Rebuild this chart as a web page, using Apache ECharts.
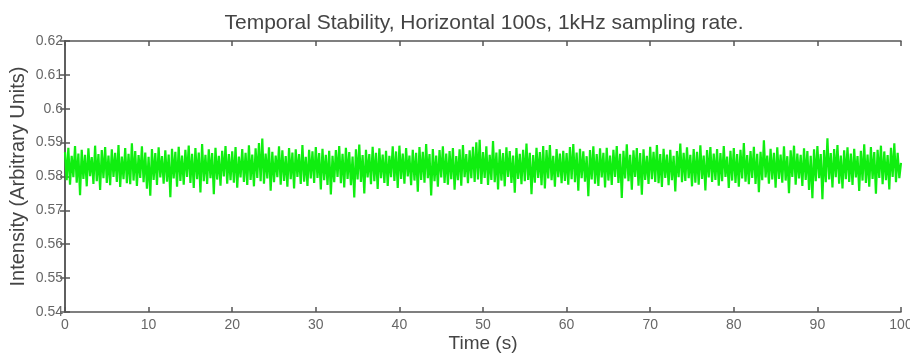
<!DOCTYPE html>
<html>
<head>
<meta charset="utf-8">
<script src="https://cdn.jsdelivr.net/npm/echarts@6/dist/echarts.min.js"></script>
<style>html,body{margin:0;padding:0;background:#fff;}#c{width:910px;height:354px;}</style>
</head>
<body>
<div id="c"></div>
<script>
const titleText = "Temporal Stability, Horizontal 100s, 1kHz sampling rate.";
const xName = "Time (s)";
const yName = "Intensity (Arbitrary Units)";
const xTicks = [0,10,20,30,40,50,60,70,80,90,100];
const yTicks = [0.54,0.55,0.56,0.57,0.58,0.59,0.6,0.61,0.62];
const sampleStep = 0.2; // seconds between plotted samples
const intensity = [
0.5872,0.5789,0.5885,0.5776,0.5861,0.5798,0.5890,0.5782,0.5868,0.5745,
0.5879,0.5793,0.5864,0.5771,0.5883,0.5801,0.5857,0.5778,0.5891,0.5786,
0.5866,0.5760,0.5878,0.5795,0.5887,0.5781,0.5862,0.5774,0.5880,0.5799,
0.5870,0.5784,0.5893,0.5769,0.5859,0.5792,0.5884,0.5780,0.5867,0.5777,
0.5898,0.5788,0.5875,0.5772,0.5863,0.5796,0.5889,0.5783,0.5871,0.5764,
0.5858,0.5743,0.5881,0.5790,0.5869,0.5775,0.5886,0.5797,0.5860,0.5779,
0.5877,0.5785,0.5865,0.5739,0.5882,0.5794,0.5873,0.5770,0.5888,0.5787,
0.5862,0.5776,0.5879,0.5799,0.5891,0.5781,0.5867,0.5766,0.5884,0.5792,
0.5871,0.5753,0.5896,0.5786,0.5864,0.5778,0.5880,0.5795,0.5869,0.5748,
0.5885,0.5791,0.5861,0.5773,0.5876,0.5800,0.5890,0.5779,0.5866,0.5789,
0.5874,0.5782,0.5887,0.5767,0.5859,0.5797,0.5881,0.5784,0.5870,0.5775,
0.5892,0.5790,0.5865,0.5771,0.5883,0.5796,0.5899,0.5786,0.5912,0.5779,
0.5868,0.5794,0.5886,0.5758,0.5873,0.5783,0.5862,0.5798,0.5889,0.5776,
0.5877,0.5787,0.5860,0.5770,0.5884,0.5792,0.5871,0.5765,0.5880,0.5799,
0.5866,0.5778,0.5893,0.5785,0.5858,0.5772,0.5879,0.5794,0.5874,0.5781,
0.5887,0.5796,0.5869,0.5762,0.5882,0.5789,0.5864,0.5775,0.5876,0.5747,
0.5861,0.5783,0.5878,0.5799,0.5890,0.5780,0.5867,0.5768,0.5885,0.5793,
0.5872,0.5774,0.5859,0.5738,0.5880,0.5791,0.5894,0.5784,0.5863,0.5750,
0.5879,0.5797,0.5866,0.5777,0.5888,0.5786,0.5870,0.5763,0.5883,0.5795,
0.5865,0.5781,0.5876,0.5772,0.5861,0.5798,0.5889,0.5787,0.5874,0.5766,
0.5891,0.5793,0.5868,0.5779,0.5884,0.5800,0.5862,0.5774,0.5879,0.5788,
0.5870,0.5755,0.5887,0.5790,0.5873,0.5782,0.5896,0.5795,0.5866,0.5744,
0.5881,0.5786,0.5862,0.5770,0.5878,0.5797,0.5889,0.5781,0.5868,0.5776,
0.5875,0.5792,0.5884,0.5761,0.5860,0.5789,0.5880,0.5773,0.5893,0.5798,
0.5866,0.5780,0.5877,0.5795,0.5888,0.5784,0.5901,0.5791,0.5908,0.5778,
0.5872,0.5796,0.5889,0.5775,0.5864,0.5790,0.5905,0.5783,0.5871,0.5762,
0.5880,0.5788,0.5869,0.5771,0.5886,0.5799,0.5875,0.5781,0.5862,0.5752,
0.5884,0.5793,0.5867,0.5777,0.5879,0.5786,0.5897,0.5790,0.5870,0.5748,
0.5863,0.5782,0.5885,0.5796,0.5872,0.5774,0.5890,0.5765,0.5878,0.5794,
0.5893,0.5789,0.5861,0.5770,0.5881,0.5798,0.5868,0.5780,0.5876,0.5787,
0.5869,0.5776,0.5887,0.5792,0.5896,0.5783,0.5871,0.5758,0.5882,0.5795,
0.5874,0.5785,0.5860,0.5742,0.5878,0.5791,0.5889,0.5779,0.5866,0.5772,
0.5883,0.5797,0.5870,0.5768,0.5885,0.5788,0.5862,0.5775,0.5879,0.5799,
0.5890,0.5781,0.5867,0.5737,0.5876,0.5794,0.5895,0.5786,0.5864,0.5761,
0.5877,0.5799,0.5884,0.5773,0.5869,0.5746,0.5880,0.5790,0.5861,0.5778,
0.5888,0.5792,0.5873,0.5784,0.5893,0.5780,0.5866,0.5769,0.5882,0.5796,
0.5865,0.5774,0.5879,0.5789,0.5861,0.5756,0.5875,0.5798,0.5897,0.5783,
0.5870,0.5787,0.5886,0.5795,0.5864,0.5771,0.5881,0.5782,0.5873,0.5776,
0.5892,0.5793,0.5862,0.5759,0.5878,0.5797,0.5887,0.5784,0.5868,0.5790,
0.5881,0.5773,0.5869,0.5786,0.5890,0.5799,0.5859,0.5766,0.5876,0.5788,
0.5884,0.5781,0.5866,0.5770,0.5879,0.5794,0.5899,0.5785,0.5863,0.5777,
0.5875,0.5796,0.5888,0.5778,0.5867,0.5754,0.5873,0.5789,0.5907,0.5797,
0.5862,0.5779,0.5882,0.5791,0.5870,0.5767,0.5886,0.5793,0.5865,0.5782,
0.5889,0.5788,0.5860,0.5751,0.5877,0.5799,0.5891,0.5776,0.5868,0.5794,
0.5864,0.5772,0.5883,0.5790,0.5875,0.5760,0.5861,0.5736,0.5880,0.5786,
0.5890,0.5795,0.5866,0.5733,0.5878,0.5783,0.5913,0.5791,0.5869,0.5768,
0.5881,0.5798,0.5893,0.5779,0.5862,0.5765,0.5877,0.5792,0.5886,0.5784,
0.5868,0.5775,0.5882,0.5797,0.5860,0.5757,0.5876,0.5788,0.5895,0.5781,
0.5865,0.5770,0.5887,0.5793,0.5872,0.5749,0.5879,0.5796,0.5891,0.5777,
0.5874,0.5789,0.5863,0.5762,0.5885,0.5799,0.5898,0.5783,0.5870,0.5795,
0.5840
];

const seriesData = intensity.map((v, i) => [i * sampleStep, v]);
const font = "'Liberation Sans', Arial, sans-serif";
const axisColor = '#555';
const labelColor = '#666';

const chart = echarts.init(document.getElementById('c'), null, {renderer: 'canvas'});
const baseX = {
  type: 'value', min: xTicks[0], max: xTicks[xTicks.length - 1], interval: 10,
  axisLine: {show: true, lineStyle: {color: axisColor, width: 1.5}},
  axisTick: {show: true, inside: true, length: 5, lineStyle: {color: axisColor, width: 1.5}},
  splitLine: {show: false}
};
const baseY = {
  type: 'value', min: yTicks[0], max: yTicks[yTicks.length - 1], interval: 0.01,
  axisLine: {show: true, lineStyle: {color: axisColor, width: 1.5}},
  axisTick: {show: true, inside: true, length: 5, lineStyle: {color: axisColor, width: 1.5}},
  splitLine: {show: false}
};
chart.setOption({
  animation: false,
  backgroundColor: '#fff',
  title: {
    text: titleText, left: 479, top: 8, textAlign: 'center',
    textStyle: {fontFamily: font, fontSize: 21, fontWeight: 'normal', color: '#444'}
  },
  grid: {left: 65, right: 9, top: 41, bottom: 42, containLabel: false, outerBoundsMode: 'none'},
  xAxis: [
    Object.assign({}, baseX, {
      position: 'bottom',
      name: xName, nameLocation: 'middle', nameGap: 22, nameMoveOverlap: false,
      nameTextStyle: {fontFamily: font, fontSize: 19, color: '#444'},
      axisLabel: {show: true, margin: 6, fontFamily: font, fontSize: 14, color: labelColor}
    }),
    Object.assign({}, baseX, {position: 'top', axisLabel: {show: false}})
  ],
  yAxis: [
    Object.assign({}, baseY, {
      position: 'left',
      name: yName, nameLocation: 'middle', nameGap: 37, nameMoveOverlap: false,
      nameTextStyle: {fontFamily: font, fontSize: 20, color: '#444'},
      axisLabel: {show: true, margin: 2, fontFamily: font, fontSize: 14, color: labelColor,
        formatter: v => String(+v.toFixed(2))}
    }),
    Object.assign({}, baseY, {position: 'right', axisLabel: {show: false}})
  ],
  series: [{
    type: 'line', xAxisIndex: 0, yAxisIndex: 0,
    data: seriesData, showSymbol: false, symbol: 'none', sampling: null,
    lineStyle: {color: '#10ee10', width: 2.2},
    z: 1
  }]
});
</script>
</body>
</html>
